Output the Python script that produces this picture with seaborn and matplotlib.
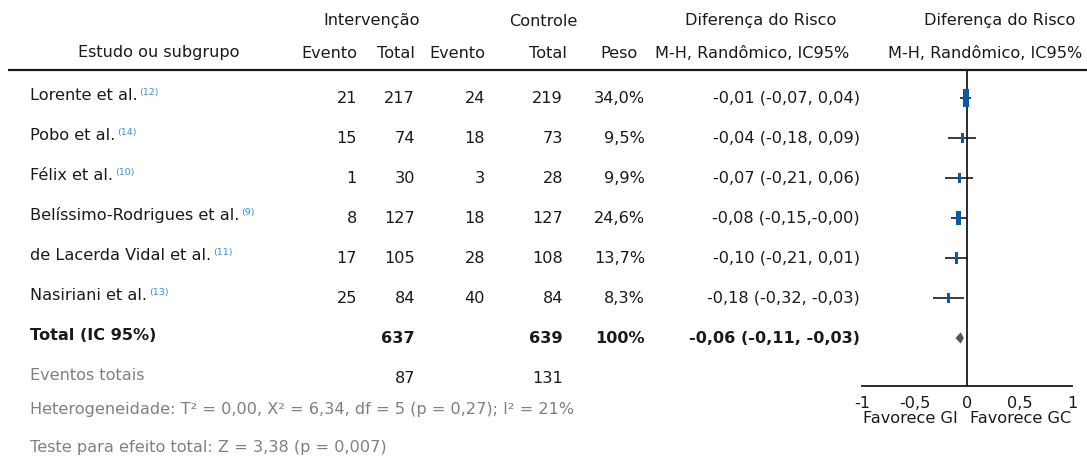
import matplotlib
matplotlib.use("Agg")
import matplotlib.pyplot as plt
import seaborn as sns
import pandas as pd

sns.set_theme(style="white")
plt.rcParams['font.family'] = ['DejaVu Sans']

# =========================================
# Dados da meta-análise
# =========================================
estudos = ["Lorente et al.", "Pobo et al.", "Félix et al.",
           "Belíssimo-Rodrigues et al.", "de Lacerda Vidal et al.", "Nasiriani et al."]
referencias = ["(12)", "(14)", "(10)", "(9)", "(11)", "(13)"]
evento_int = [21, 15, 1, 8, 17, 25]
total_int = [217, 74, 30, 127, 105, 84]
evento_ctl = [24, 18, 3, 18, 28, 40]
total_ctl = [219, 73, 28, 127, 108, 84]
peso = [34.0, 9.5, 9.9, 24.6, 13.7, 8.3]
dr = [-0.01, -0.04, -0.07, -0.08, -0.10, -0.18]
ic_inf = [-0.07, -0.18, -0.21, -0.15, -0.21, -0.32]
ic_sup = [0.04, 0.09, 0.06, -0.00, 0.01, -0.03]
dr_texto = ["-0,01 (-0,07, 0,04)", "-0,04 (-0,18, 0,09)", "-0,07 (-0,21, 0,06)",
            "-0,08 (-0,15,-0,00)", "-0,10 (-0,21, 0,01)", "-0,18 (-0,32, -0,03)"]

total_n_int = 637
total_n_ctl = 639
eventos_tot_int = 87
eventos_tot_ctl = 131
dr_total = -0.06
ic_total = (-0.11, -0.03)
dr_total_texto = "-0,06 (-0,11, -0,03)"

heterog = "Heterogeneidade: T² = 0,00, X² = 6,34, df = 5 (p = 0,27); I² = 21%"
teste = "Teste para efeito total: Z = 3,38 (p = 0,007)"

ticks = [-1, -0.5, 0, 0.5, 1]
tick_labels = ["-1", "-0,5", "0", "0,5", "1"]

df = pd.DataFrame({"estudo": estudos, "dr": dr, "inf": ic_inf, "sup": ic_sup,
                   "peso": peso, "linha": range(len(estudos))})

# =========================================
# Layout (pixels)
# =========================================
W, H = 1087, 461
fs = 11.6
preto = "#1a1a1a"
cinza = "#808080"
azul = "#0a58a8"
azul_ref = "#3b8fd9"


def ypx(i):
    return 98 + 40 * i


fig = plt.figure(figsize=(W / 100, H / 100), dpi=100)
ax = fig.add_axes([0, 0, 1, 1])
ax.set_xlim(0, W)
ax.set_ylim(H, 0)
ax.axis("off")

# cabeçalho
ax.text(323, 21, "Intervenção", ha="left", va="center", fontsize=fs, color=preto)
ax.text(577, 21, "Controle", ha="right", va="center", fontsize=fs, color=preto)
ax.text(761, 21, "Diferença do Risco", ha="center", va="center", fontsize=fs, color=preto)
ax.text(1000, 21, "Diferença do Risco", ha="center", va="center", fontsize=fs, color=preto)

ax.text(240, 53, "Estudo ou subgrupo", ha="right", va="center", fontsize=fs, color=preto)
ax.text(357, 53, "Evento", ha="right", va="center", fontsize=fs, color=preto)
ax.text(415, 53, "Total", ha="right", va="center", fontsize=fs, color=preto)
ax.text(485, 53, "Evento", ha="right", va="center", fontsize=fs, color=preto)
ax.text(567, 53, "Total", ha="right", va="center", fontsize=fs, color=preto)
ax.text(638, 53, "Peso", ha="right", va="center", fontsize=fs, color=preto)
ax.text(752, 53, "M-H, Randômico, IC95%", ha="center", va="center", fontsize=fs, color=preto)
ax.text(1082, 53, "M-H, Randômico, IC95%", ha="right", va="center", fontsize=fs, color=preto)
ax.plot([8, W], [70, 70], color=preto, lw=1.6, solid_capstyle="butt")

# linhas dos estudos
for i in range(len(estudos)):
    y = ypx(i)
    t = ax.text(30, y - 3, estudos[i], ha="left", va="center", fontsize=fs, color=preto)
    ax.annotate(referencias[i], xy=(1, 0.36), xycoords=t, xytext=(1.2, 0),
                textcoords="offset points", fontsize=6.8, color=azul_ref,
                ha="left", va="bottom")
    ax.text(357, y, str(evento_int[i]), ha="right", va="center", fontsize=fs, color=preto)
    ax.text(415, y, str(total_int[i]), ha="right", va="center", fontsize=fs, color=preto)
    ax.text(485, y, str(evento_ctl[i]), ha="right", va="center", fontsize=fs, color=preto)
    ax.text(563, y, str(total_ctl[i]), ha="right", va="center", fontsize=fs, color=preto)
    ax.text(645, y, f"{peso[i]:.1f}%".replace(".", ","), ha="right", va="center",
            fontsize=fs, color=preto)
    ax.text(860, y, dr_texto[i], ha="right", va="center", fontsize=fs, color=preto)

# total
yt = ypx(6)
ax.text(30, yt - 3, "Total (IC 95%)", ha="left", va="center", fontsize=fs,
        color=preto, fontweight="bold")
ax.text(415, yt, str(total_n_int), ha="right", va="center", fontsize=fs,
        color=preto, fontweight="bold")
ax.text(563, yt, str(total_n_ctl), ha="right", va="center", fontsize=fs,
        color=preto, fontweight="bold")
ax.text(645, yt, "100%", ha="right", va="center", fontsize=fs,
        color=preto, fontweight="bold")
ax.text(860, yt, dr_total_texto, ha="right", va="center", fontsize=fs,
        color=preto, fontweight="bold")

# eventos totais
ye = ypx(7)
ax.text(30, ye - 3, "Eventos totais", ha="left", va="center", fontsize=fs, color=cinza)
ax.text(415, ye, str(eventos_tot_int), ha="right", va="center", fontsize=fs, color=preto)
ax.text(563, ye, str(eventos_tot_ctl), ha="right", va="center", fontsize=fs, color=preto)

ax.text(30, 409, heterog, ha="left", va="center", fontsize=fs, color=cinza)
ax.text(30, 447, teste, ha="left", va="center", fontsize=fs, color=cinza)

ax.text(958, 418, "Favorece GI", ha="right", va="center", fontsize=fs, color=preto)
ax.text(970, 418, "Favorece GC", ha="left", va="center", fontsize=fs, color=preto)

# =========================================
# Forest plot
# =========================================
x0, x1, y0, y1 = 862, 1072, 70, 386
ax2 = fig.add_axes([x0 / W, (H - y1) / H, (x1 - x0) / W, (y1 - y0) / H])
ax2.set_facecolor("none")
ax2.set_xlim(-1, 1)
ax2.set_ylim((y1 - 98) / 40, (y0 - 98) / 40)

ax2.axvline(0, color=preto, lw=1.3, zorder=1)
ax2.hlines(df["linha"], df["inf"], df["sup"], color=preto, lw=1.2, zorder=2)

caixa = [(-0.16, -0.5), (0.16, -0.5), (0.16, 0.5), (-0.16, 0.5), (-0.16, -0.5)]
sns.scatterplot(data=df, x="dr", y="linha", size="peso", sizes=(50, 155),
                marker=caixa, color=azul, linewidth=0, legend=False, ax=ax2, zorder=3)

# diamante do total
dh = 0.14
ax2.fill([ic_total[0], dr_total, ic_total[1], dr_total],
         [6, 6 - dh, 6, 6 + dh], color="#555555", lw=0, zorder=3)

for s in ["top", "right", "left"]:
    ax2.spines[s].set_visible(False)
ax2.spines["bottom"].set_color(preto)
ax2.spines["bottom"].set_linewidth(1.3)
ax2.set_yticks([])
ax2.set_xticks(ticks)
ax2.set_xticklabels(tick_labels)
ax2.tick_params(axis="x", direction="inout", length=8, width=1.3, color=preto,
                labelsize=fs, labelcolor=preto, pad=3)
ax2.set_xlabel("")
ax2.set_ylabel("")

fig.savefig("out.png", dpi=100)
